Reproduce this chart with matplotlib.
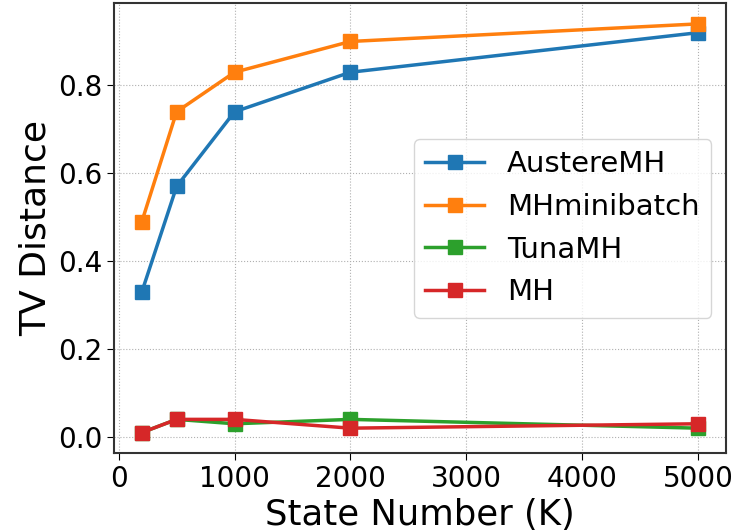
import matplotlib
matplotlib.use('Agg')
import matplotlib.pyplot as plt

# State numbers (K) and TV distance of each method
states = [200, 500, 1000, 2000, 5000]
austere_mh = [0.33, 0.57, 0.74, 0.83, 0.92]
mh_minibatch = [0.49, 0.74, 0.83, 0.90, 0.94]
tuna_mh = [0.01, 0.04, 0.03, 0.04, 0.02]
mh = [0.01, 0.04, 0.04, 0.02, 0.03]

fig = plt.figure(figsize=(7.39, 5.32), dpi=100)
ax = fig.add_axes([0.1543, 0.1485, 0.828, 0.845])

ax.plot(states, austere_mh, marker='s', markersize=10, linewidth=2.5, label='AustereMH')
ax.plot(states, mh_minibatch, marker='s', markersize=10, linewidth=2.5, label='MHminibatch')
ax.plot(states, tuna_mh, marker='s', markersize=10, linewidth=2.5, label='TunaMH')
ax.plot(states, mh, marker='s', markersize=10, linewidth=2.5, label='MH')

ax.set_xlabel('State Number (K)', fontsize=25.5, labelpad=4)
ax.set_ylabel('TV Distance', fontsize=26, labelpad=4)
ax.tick_params(labelsize=20, length=5)
ax.set_yticks([0.0, 0.2, 0.4, 0.6, 0.8])
for s in ax.spines.values():
    s.set_color('#333333')
    s.set_linewidth(1.5)
ax.grid(linestyle=':')
ax.legend(loc='center right', fontsize=21)

fig.savefig('out.png', dpi=100)
